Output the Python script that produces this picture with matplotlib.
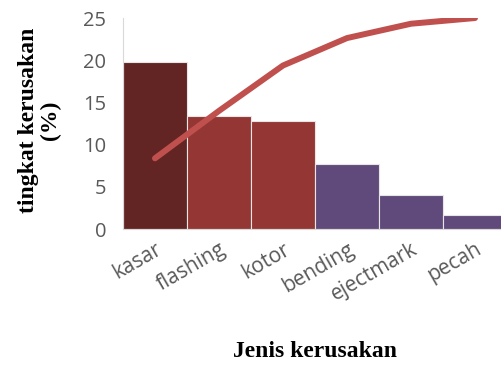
import matplotlib
matplotlib.use("Agg")
import matplotlib.pyplot as plt

# jenis kerusakan dan persentasenya
jenis = ["kasar", "flashing", "kotor", "bending", "ejectmark", "pecah"]
persen = [19.8, 13.4, 12.8, 7.65, 4.05, 1.6]
kumulatif = [33.5, 56.0, 77.5, 90.5, 97.3, 100.0]
warna = ["#632523", "#943634", "#943634", "#604A7B", "#604A7B", "#604A7B"]

fig = plt.figure(figsize=(5.02, 3.65), dpi=100)
ax = fig.add_axes([0.245, 0.3726, 0.765, 0.578])

x = list(range(len(jenis)))
ax.bar(x, persen, width=1.0, color=warna, edgecolor="#E6E6E6", linewidth=0.8, zorder=2)
ax.set_xlim(-0.5, 5.5)
ax.set_ylim(0, 25)
ax.set_yticks([0, 5, 10, 15, 20, 25])

ax.set_xticks(x)
ax.set_xticklabels(jenis, rotation=30, ha="right", va="top", rotation_mode="anchor",
                   family="Open Sans", fontsize=15, color="#595959")
for lbl in ax.get_yticklabels():
    lbl.set_family("Open Sans")
    lbl.set_fontsize(14.5)
    lbl.set_color("#595959")
ax.tick_params(axis="both", length=0)
ax.tick_params(axis="y", pad=12)
ax.tick_params(axis="x", pad=7)

for s in ["top", "right"]:
    ax.spines[s].set_visible(False)
ax.spines["left"].set_color("#D9D9D9")
ax.spines["bottom"].set_color("#D9D9D9")

# garis kumulatif pada sumbu kedua (0-100), sumbunya disembunyikan
ax2 = ax.twinx()
ax2.plot(x, kumulatif, color="#C0504D", linewidth=4.3, solid_capstyle="round", zorder=3)
ax2.set_ylim(0, 100)
ax2.axis("off")

fig.text(0.078, 0.67, "tingkat kerusakan\n(%)", rotation=90, ha="center", va="center",
         family="Liberation Serif", fontweight="bold", fontsize=17, linespacing=1.05)
fig.text(0.627, 0.036, "Jenis kerusakan", ha="center", va="center",
         family="Liberation Serif", fontweight="bold", fontsize=17)

fig.savefig("out.png", dpi=100)
